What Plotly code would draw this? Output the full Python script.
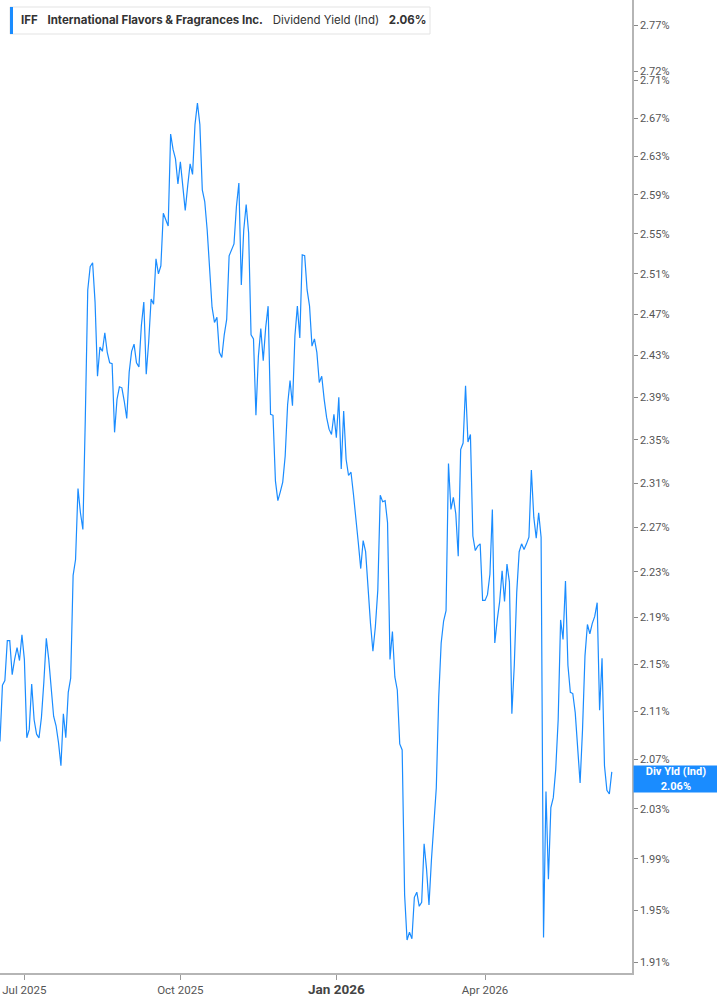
import math
import pandas as pd
import plotly.graph_objects as go

# ---------------- data ----------------
start_date = "2025-06-16"
market_holidays = ["2025-06-19", "2025-07-04", "2025-09-01", "2025-11-27", "2025-12-25",
                   "2026-01-01", "2026-01-19", "2026-02-16", "2026-04-03", "2026-05-25",
                   "2026-06-19"]

div_yield = [
    2.085, 2.132, 2.136, 2.170, 2.170, 2.141, 2.154, 2.164, 2.153, 2.175,
    2.154, 2.088, 2.095, 2.133, 2.103, 2.091, 2.088, 2.105, 2.135, 2.172,
    2.154, 2.131, 2.106, 2.098, 2.084, 2.065, 2.108, 2.088, 2.126, 2.138,
    2.227, 2.241, 2.305, 2.283, 2.268, 2.370, 2.494, 2.517, 2.521, 2.482,
    2.410, 2.438, 2.434, 2.452, 2.433, 2.423, 2.422, 2.357, 2.388, 2.400,
    2.399, 2.386, 2.370, 2.414, 2.434, 2.441, 2.423, 2.419, 2.459, 2.482,
    2.412, 2.443, 2.485, 2.480, 2.525, 2.510, 2.518, 2.571, 2.564, 2.558,
    2.653, 2.637, 2.627, 2.601, 2.624, 2.595, 2.574, 2.599, 2.622, 2.611,
    2.663, 2.686, 2.663, 2.595, 2.583, 2.554, 2.511, 2.477, 2.462, 2.467,
    2.433, 2.428, 2.450, 2.465, 2.528, 2.534, 2.540, 2.578, 2.602, 2.499,
    2.554, 2.580, 2.551, 2.450, 2.446, 2.373, 2.429, 2.456, 2.425, 2.457,
    2.478, 2.374, 2.373, 2.312, 2.294, 2.302, 2.311, 2.335, 2.383, 2.406,
    2.382, 2.449, 2.478, 2.447, 2.529, 2.528, 2.494, 2.478, 2.439, 2.446,
    2.433, 2.404, 2.410, 2.388, 2.371, 2.360, 2.355, 2.374, 2.352, 2.390,
    2.323, 2.377, 2.332, 2.317, 2.320, 2.300, 2.280, 2.256, 2.233, 2.258,
    2.248, 2.215, 2.185, 2.161, 2.182, 2.214, 2.299, 2.293, 2.294, 2.274,
    2.154, 2.178, 2.139, 2.128, 2.083, 2.078, 1.962, 1.927, 1.933, 1.928,
    1.960, 1.964, 1.953, 1.956, 2.002, 1.982, 1.954, 1.989, 2.020, 2.047,
    2.122, 2.168, 2.187, 2.196, 2.328, 2.286, 2.297, 2.282, 2.244, 2.341,
    2.347, 2.401, 2.348, 2.355, 2.262, 2.249, 2.253, 2.255, 2.205, 2.205,
    2.210, 2.228, 2.286, 2.168, 2.188, 2.204, 2.231, 2.204, 2.237, 2.221,
    2.108, 2.149, 2.212, 2.248, 2.255, 2.250, 2.255, 2.261, 2.322, 2.279,
    2.260, 2.283, 2.261, 1.929, 2.044, 1.974, 2.031, 2.039, 2.062, 2.103,
    2.188, 2.171, 2.222, 2.149, 2.126, 2.125, 2.109, 2.078, 2.051, 2.095,
    2.157, 2.184, 2.176, 2.185, 2.191, 2.203, 2.111, 2.155, 2.065, 2.045,
    2.042, 2.060,
]

x_tick_dates = ["2025-07-01", "2025-10-01", "2026-01-02", "2026-04-01"]
x_tick_labels = ["Jul 2025", "Oct 2025",
                 "<b><span style='font-size:13.5px;color:#444'>Jan 2026</span></b>", "Apr 2026"]
y_tick_values = [1.91, 1.95, 1.99, 2.03, 2.07, 2.11, 2.15, 2.19, 2.23, 2.27, 2.31, 2.35,
                 2.39, 2.43, 2.47, 2.51, 2.55, 2.59, 2.63, 2.67, 2.71, 2.72, 2.77]
y_range = [1.902, 2.798]
x_range = ["2025-06-16", "2026-06-29 07:00"]

ticker = "IFF"
company = "International Flavors & Fragrances Inc."
metric = "Dividend Yield (Ind)"
last_label = "Div Yld (Ind)"

# ---------------- figure ----------------
dates = pd.bdate_range(start=start_date, periods=len(div_yield), freq="C",
                       holidays=market_holidays)

BLUE = "#1a8cff"
PW, PH = 632, 973  # plot area size in px

fig = go.Figure()
fig.add_trace(go.Scatter(x=dates, y=div_yield, mode="lines",
                         line=dict(color=BLUE, width=1.2), hoverinfo="x+y",
                         showlegend=False))

fig.update_layout(
    width=717, height=1005,
    margin=dict(l=0, r=717 - PW, t=0, b=1005 - PH, autoexpand=False),
    paper_bgcolor="white", plot_bgcolor="white",
    font=dict(family="Roboto, Arial, sans-serif", size=11, color="#555"),
)

fig.update_xaxes(
    range=x_range,
    rangebreaks=[dict(bounds=["sat", "mon"]), dict(values=market_holidays)],
    tickmode="array", tickvals=x_tick_dates, ticktext=x_tick_labels,
    showgrid=False, zeroline=False,
    showline=True, linecolor="#b5b5b5", linewidth=1.5,
    ticks="outside", ticklen=5, tickcolor="#999", tickwidth=1,
    tickfont=dict(size=11.5, color="#555"),
)

fig.update_yaxes(
    type="log", side="right",
    range=[math.log10(y_range[0]), math.log10(y_range[1])],
    tickmode="array", tickvals=y_tick_values,
    ticktext=[f"{v:.2f}%" for v in y_tick_values],
    showgrid=False, zeroline=False,
    showline=True, linecolor="#b5b5b5", linewidth=1.5,
    ticks="outside", ticklen=4, tickcolor="#888", tickwidth=1,
    tickfont=dict(size=11, color="#555"),
)

# header / legend box (box + blue accent bar as shapes, text as annotation)
fig.add_shape(type="rect", xref="paper", yref="paper",
              x0=10 / PW, x1=430 / PW, y0=1 - 34 / PH, y1=1 - 7 / PH,
              fillcolor="white", line=dict(color="#e3e3e3", width=1), layer="above")
fig.add_shape(type="rect", xref="paper", yref="paper",
              x0=10 / PW, x1=13 / PW, y0=1 - 34 / PH, y1=1 - 7 / PH,
              fillcolor=BLUE, line=dict(width=0), layer="above")
fig.add_annotation(
    xref="paper", yref="paper", x=19 / PW, y=1 - 20.5 / PH,
    xanchor="left", yanchor="middle", showarrow=False,
    text=(f"<b>{ticker}</b>   <b>{company}</b>   {metric}   "
          f"<b>{div_yield[-1]:.2f}%</b>"),
    font=dict(family="Inter, Roboto, sans-serif", size=11.5, color="#333"),
)

# last value label on the right axis
fig.add_annotation(
    xref="paper", yref="y", x=1, y=math.log10(div_yield[-1]),
    xanchor="left", yanchor="middle", showarrow=False, xshift=1, yshift=-7,
    text=f"<b>{last_label}<br>{div_yield[-1]:.2f}%</b>",
    font=dict(family="Roboto, Arial, sans-serif", size=11, color="white"),
    bgcolor=BLUE, width=82, height=24, align="center", borderpad=1,
)

fig.write_html("out.html",
               config={"displayModeBar": False},
               post_script="document.body.style.margin='0px';document.body.style.padding='0px';")
